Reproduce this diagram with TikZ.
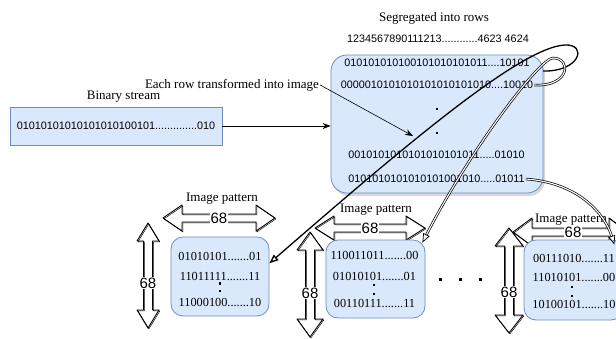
\documentclass[tikz,border=0pt]{standalone}
\usepackage{fontspec}
\setmainfont{Liberation Serif}
\newfontfamily\sansf{Liberation Sans}
\usetikzlibrary{arrows.meta,shadows}
\definecolor{bfill}{HTML}{DAE8FC}
\definecolor{bdraw}{HTML}{6C8EBF}
\tikzset{
 boxs/.style={draw=bdraw, fill=bfill, line width=0.8pt},
 rowtxt/.style={font=\sansf\fontsize{10.8}{12}\selectfont, inner sep=1pt},
 imgtxt/.style={font=\fontsize{12.3}{14}\selectfont, inner sep=1pt},
 lbl/.style={font=\fontsize{13}{15}\selectfont, inner sep=1pt},
 num/.style={font=\sansf\fontsize{15}{17}\selectfont, fill=white, inner sep=0.6pt},
 barrow/.style={draw=black, line width=0.9pt, fill=white, line join=round},
 barrow2/.style={draw=black, line width=0.45pt, line join=round},
 sq/.style={fill=black, minimum size=2.6pt, inner sep=0pt},
 arr/.style={-{Stealth[length=8pt,width=6pt]}, line width=0.7pt},
 thickc/.style={line width=1.3pt, -{Triangle[open,length=9pt,width=7pt]}},
 dbl/.style={double=white, double distance=1.1pt, line width=0.7pt, -{Triangle[open,length=9pt,width=7pt]}},
}
\newcommand\HArr[4]{%
 \draw[barrow] (#1,#3) -- ++(19,-#4) -- ++(0,#4-4) -- (#2-19,#3-4) -- ++(0,4-#4) -- (#2,#3) -- ++(-19,#4) -- ++(0,4-#4) -- (#1+19,#3+4) -- ++(0,#4-4) -- cycle;
 \draw[barrow2,shift={(0.9,0.9)}] (#1,#3) -- ++(19,-#4) -- ++(0,#4-4) -- (#2-19,#3-4) -- ++(0,4-#4) -- (#2,#3) -- ++(-19,#4) -- ++(0,4-#4) -- (#1+19,#3+4) -- ++(0,#4-4) -- cycle;}
\newcommand\VArr[4]{%
 \draw[barrow] (#1,#2) -- ++(#4,18) -- ++(4.5-#4,0) -- (#1+4.5,#3-18) -- ++(#4-4.5,0) -- (#1,#3) -- ++(-#4,-18) -- ++(#4-4.5,0) -- (#1-4.5,#2+18) -- ++(4.5-#4,0) -- cycle;
 \draw[barrow2,shift={(0.9,0.9)}] (#1,#2) -- ++(#4,18) -- ++(4.5-#4,0) -- (#1+4.5,#3-18) -- ++(#4-4.5,0) -- (#1,#3) -- ++(-#4,-18) -- ++(#4-4.5,0) -- (#1-4.5,#2+18) -- ++(4.5-#4,0) -- cycle;}
\begin{document}
\begin{tikzpicture}[x=1pt,y=-1pt]
\useasboundingbox (0,0) rectangle (616,338);
\fill[white] (0,0) rectangle (616,338);

% top: segregated rows
\node[lbl] (seg) at (434,18) {Segregated into rows};
\node[rowtxt] (hdr) at (438,39) {1234567890111213............4623 4624};
\node[boxs, rounded corners=16pt, minimum width=212pt, minimum height=138pt,
      drop shadow={shadow xshift=2pt, shadow yshift=-3pt, fill=black!30}] (big) at (437,124) {};
\node[rowtxt] (r1) at (437,63) {010101010100101010101011....10101};
\node[rowtxt] (r2) at (437,85) {0000010101010101010101010....10010};
\node[sq] (d1) at (437,109) {};
\node[sq] (d2) at (437,133) {};
\node[rowtxt] (r3) at (436.5,155) {0010101010101010101011.....01010};
\node[rowtxt] (r4) at (436.5,179) {0101010101010101001010.....01011};

% binary stream
\node[boxs, rowtxt, minimum width=212pt, minimum height=38pt] (stream) at (116,126) {01010101010101010100101..............010};
\node[lbl] (bs) at (123.5,97) {Binary stream};
\node[lbl] (each) at (232,85) {Each row transformed into image};
\draw[arr] (stream.east) -- (big.west |- stream.east);
\coordinate (mid) at (413,136);
\draw[arr, line width=0.6pt] (each.east) -- (mid);

% block arrows
\HArr{163}{275}{218}{13}
\HArr{315}{425}{228}{12}
\HArr{513}{628}{232}{14}
\VArr{148}{223}{328}{11}
\VArr{310}{232}{337}{13}
\VArr{509}{228}{333}{14}

% image boxes
\node[boxs, rounded corners=12pt, minimum width=98pt, minimum height=79pt] (b1) at (220,276.5) {};
\node[boxs, rounded corners=12pt, minimum width=99pt, minimum height=78pt] (b2) at (375.5,279) {};
\node[boxs, rounded corners=12pt, minimum width=99pt, minimum height=80pt] (b3) at (573.5,280) {};

\node[imgtxt] (b1a) at (220,256) {01010101.......01};
\node[imgtxt] (b1b) at (220,276) {11011111.......11};
\node[sq] (b1d1) at (220,283.5) {};
\node[sq] (b1d2) at (220,291) {};
\node[imgtxt] (b1c) at (220,302) {11000100.......10};

\node[imgtxt] (b2a) at (374.5,255) {110011011.......00};
\node[imgtxt] (b2b) at (374.5,276) {01010101.......01};
\node[sq] (b2d1) at (374,285) {};
\node[sq] (b2d2) at (374,294) {};
\node[imgtxt] (b2c) at (374.5,303) {00110111.......11};

\node[imgtxt] (b3a) at (574,258) {00111010.......11};
\node[imgtxt] (b3b) at (574,277) {11010101.......00};
\node[sq] (b3d1) at (572,287) {};
\node[sq] (b3d2) at (572,296) {};
\node[imgtxt] (b3c) at (574,304) {10100101.......10};

% labels on block arrows
\node[lbl] (im1) at (222,199) {Image pattern};
\node[lbl] (im2) at (376,210) {Image pattern};
\node[lbl] (im3) at (571,220) {Image pattern};
\node[num] (h1) at (219,218) {68};
\node[num] (h2) at (370,228) {68};
\node[num] (h3) at (573,232) {68};
\node[num] (v1) at (148,283) {68};
\node[num] (v2) at (310,293) {68};
\node[num] (v3) at (509,292) {68};

% ellipsis
\node[sq, minimum size=3pt] (e1) at (440,279) {};
\node[sq, minimum size=3pt] (e2) at (460,279) {};
\node[sq, minimum size=3pt] (e3) at (480,279) {};

% connectors
\coordinate (aS) at (543,71);
\draw[thickc] (aS) .. controls (580,72) and (588,44) .. (565,45) .. controls (520,47) and (400,150) .. (b1.15);
\draw[dbl] (r2.east) .. controls (570,87) and (572,58) .. (553,58) .. controls (540,58) and (470,150) .. ([shift={(-3pt,-3pt)}]b2.north east);
\draw[dbl] (r4.east) .. controls (580,183) and (605,215) .. ([shift={(-9pt,-5pt)}]b3.north east);
\end{tikzpicture}
\end{document}
